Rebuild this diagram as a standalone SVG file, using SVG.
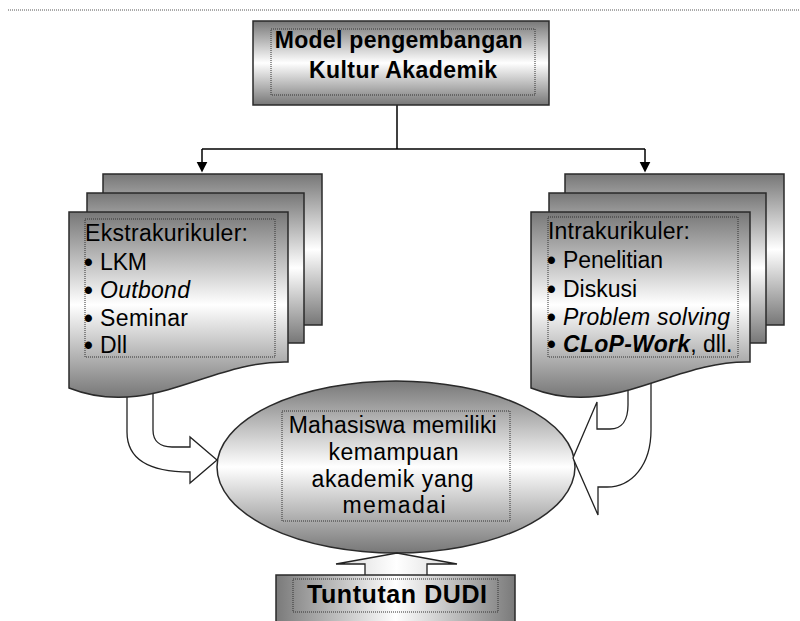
<svg xmlns="http://www.w3.org/2000/svg" width="800" height="621" viewBox="0 0 800 621">
<defs>
  <linearGradient id="gv" x1="0" y1="0" x2="0" y2="1">
    <stop offset="0" stop-color="#777"/>
    <stop offset="0.5" stop-color="#fff"/>
    <stop offset="1" stop-color="#777"/>
  </linearGradient>
  <linearGradient id="gh" x1="0" y1="0" x2="1" y2="0">
    <stop offset="0" stop-color="#7a7a7a"/>
    <stop offset="0.5" stop-color="#fff"/>
    <stop offset="1" stop-color="#7a7a7a"/>
  </linearGradient>
  <linearGradient id="ga" x1="0" y1="0" x2="1" y2="0">
    <stop offset="0" stop-color="#d8d8d8"/>
    <stop offset="0.5" stop-color="#fff"/>
    <stop offset="1" stop-color="#d8d8d8"/>
  </linearGradient>
  <marker id="ah" viewBox="0 0 10 10" refX="4" refY="5" markerWidth="11" markerHeight="12" markerUnits="userSpaceOnUse" orient="auto">
    <path d="M0,0 L10,5 L0,10 Z" fill="#000"/>
  </marker>
  <style>
    .shape{fill:url(#gv);stroke:#2a2a2a;stroke-width:1.5}
    .dot{fill:none;stroke:#333;stroke-width:1;stroke-dasharray:1 1}
    .t{font-family:"Liberation Sans",Arial,sans-serif;fill:#000}
    .bu{font-family:"Liberation Sans",Arial,sans-serif;fill:#000;font-size:25px;font-weight:bold}
    .b{font-weight:bold}
    .i{font-style:italic}
    .line{fill:none;stroke:#000;stroke-width:1.5}
    .blk{fill:#fff;stroke:#222;stroke-width:1.3;stroke-linejoin:miter}
  </style>
</defs>
<rect width="800" height="621" fill="#fff"/>
<line x1="8" y1="10" x2="800" y2="10" stroke="#555" stroke-width="1" stroke-dasharray="1 1"/>

<g id="node-ellipse">
  <ellipse cx="396" cy="467" rx="179" ry="86" class="shape"/>
  <rect x="282" y="411" width="228" height="110" class="dot"/>
  <text class="t" font-size="23" text-anchor="middle">
    <tspan x="396" y="433" textLength="208">Mahasiswa memiliki</tspan>
    <tspan x="397" y="460" textLength="130">kemampuan</tspan>
    <tspan x="396" y="487" textLength="162">akademik yang</tspan>
    <tspan x="394" y="513" textLength="103">memadai</tspan>
  </text>
</g>

<g id="connectors">
  <path class="line" d="M397,105 V149"/>
  <path class="line" d="M202,149 H645"/>
  <path class="line" d="M202,149 V166" marker-end="url(#ah)"/>
  <path class="line" d="M645,149 V166" marker-end="url(#ah)"/>
  <path class="blk" d="M127,385 V432 C127,460 150,472 190,472 V483 L217,460 L190,437 V447 H172 C160,447 153,441 153,430 V385 Z"/>
  <path class="blk" d="M651,380 V430 C651,465 632,487 607,487 H598 V515 L573,458 L597,402 V429 H610 C622,429 628,420 628,405 V380 Z"/>
  <path d="M365,578 V564 H336 L397,553 L457,564 H427 V578 Z" fill="url(#ga)" stroke="#222" stroke-width="1.3"/>
</g>

<g id="node-ekstra">
  <rect x="103" y="174" width="219" height="151" class="shape"/>
  <rect x="87" y="193" width="217" height="150" class="shape"/>
  <path d="M69,212 H288 V362 C210,360 150,420 69,388 Z" class="shape"/>
  <rect x="85" y="219" width="190" height="138" class="dot"/>
  <text class="t" font-size="23" x="85" y="241" textLength="163">Ekstrakurikuler:</text>
  <text class="bu" x="84" y="271">•</text>
  <text class="t" font-size="23" x="100" y="270" textLength="47">LKM</text>
  <text class="bu" x="84" y="299">•</text>
  <text class="t i" font-size="23" x="100" y="298" textLength="90">Outbond</text>
  <text class="bu" x="84" y="327">•</text>
  <text class="t" font-size="23" x="100" y="326" textLength="88">Seminar</text>
  <text class="bu" x="84" y="354">•</text>
  <text class="t" font-size="23" x="100" y="353" textLength="27">Dll</text>
</g>

<g id="node-intra">
  <rect x="565" y="174" width="219" height="151" class="shape"/>
  <rect x="549" y="193" width="217" height="150" class="shape"/>
  <path d="M531,212 H750 V362 C672,360 612,420 531,388 Z" class="shape"/>
  <rect x="548" y="217" width="190" height="140" class="dot"/>
  <text class="t" font-size="23" x="548" y="239" textLength="142">Intrakurikuler:</text>
  <text class="bu" x="547" y="269">•</text>
  <text class="t" font-size="23" x="563" y="268" textLength="100">Penelitian</text>
  <text class="bu" x="547" y="298">•</text>
  <text class="t" font-size="23" x="563" y="297" textLength="74">Diskusi</text>
  <text class="bu" x="547" y="326">•</text>
  <text class="t i" font-size="23" x="563" y="325" textLength="167">Problem solving</text>
  <text class="bu" x="547" y="353">•</text>
  <text class="t" font-size="23" x="563" y="352"><tspan class="b i" textLength="127">CLoP-Work</tspan><tspan>, dll.</tspan></text>
</g>

<g id="node-model">
  <rect x="253" y="21" width="296" height="84" class="shape"/>
  <rect x="271" y="29" width="264" height="66" class="dot"/>
  <text class="t b" font-size="23" text-anchor="middle">
    <tspan x="402" y="48" textLength="248">Model pengembangan</tspan>
    <tspan x="403" y="78" textLength="188">Kultur Akademik</tspan>
  </text>
</g>

<g id="node-dudi">
  <rect x="276" y="575" width="239" height="56" fill="url(#gh)" stroke="#2a2a2a" stroke-width="1.5"/>
  <rect x="293" y="579" width="205" height="33" class="dot"/>
  <text class="t b" font-size="25" x="397" y="603" text-anchor="middle" textLength="180">Tuntutan DUDI</text>
</g>
</svg>
